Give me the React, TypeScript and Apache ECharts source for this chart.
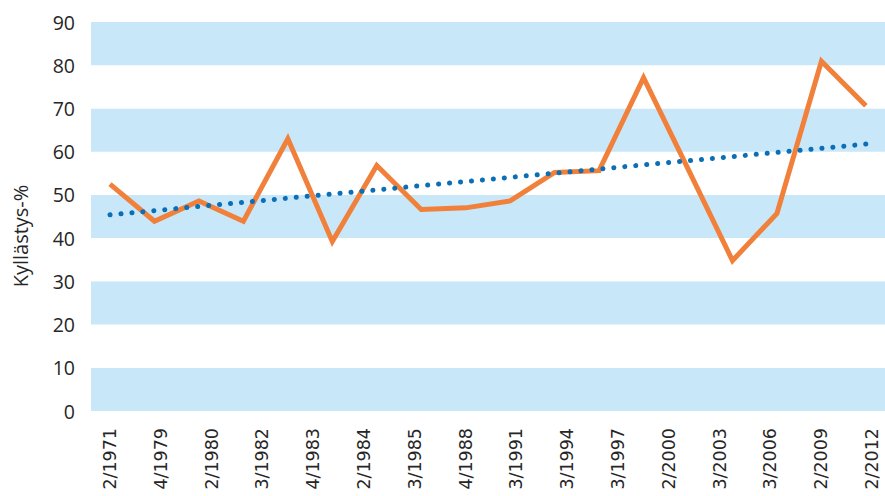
import React, { useEffect, useRef } from "react";
import * as echarts from "echarts";

const xLabels = [
  "2/1971", "4/1979", "2/1980", "3/1982", "4/1983", "2/1984", "3/1985", "4/1988",
  "3/1991", "3/1994", "3/1997", "2/2000", "3/2003", "3/2006", "2/2009", "2/2012",
];
const saturation = [
  52.5, 43.9, 48.6, 43.9, 63.0, 39.2, 56.8, 46.6, 47.0,
  48.6, 55.2, 55.6, 77.1, 56.0, 34.8, 45.7, 80.9, 70.6,
];
const trendEnds = [45.4, 61.8];
const yTicks = { min: 0, max: 90, step: 10 };
const yTitle = "Kyllästys-%";

export default function App() {
  const ref = useRef<HTMLDivElement>(null);
  useEffect(() => {
    if (!ref.current) return;
    const chart = echarts.init(ref.current, undefined, { renderer: "svg" });
    const lineData = saturation.map((v, i) => [i, v]);
    const trendData = [
      [0, trendEnds[0]],
      [saturation.length - 1 + 0.05, trendEnds[1]],
    ];
    chart.setOption({
      animation: false,
      backgroundColor: "#ffffff",
      grid: [
        { left: 91, right: 0, top: 22, bottom: 85 },
        { left: 110, right: 13, top: 22, bottom: 85 },
      ],
      xAxis: [
        { type: "value", gridIndex: 0, min: -0.427, max: 17.43, show: false },
        {
          type: "category",
          gridIndex: 1,
          data: xLabels,
          boundaryGap: false,
          axisLine: { show: false },
          axisTick: { show: false },
          splitLine: { show: false },
          axisLabel: {
            interval: 0,
            rotate: 90,
            margin: 17,
            fontFamily: "DejaVu Sans",
            fontSize: 17.5,
            color: "#262626",
          },
        },
      ],
      yAxis: [
        {
          type: "value",
          gridIndex: 0,
          min: yTicks.min,
          max: yTicks.max,
          interval: yTicks.step,
          axisLine: { show: false },
          axisTick: { show: false },
          splitLine: { show: false },
          splitArea: { show: true, areaStyle: { color: ["#C8E7F9", "#ffffff"] } },
          axisLabel: {
            margin: 16,
            fontFamily: "Open Sans",
            fontSize: 19.5,
            color: "#262626",
          },
        },
        { type: "value", gridIndex: 1, min: 0, max: 90, show: false },
      ],
      graphic: [
        {
          type: "text",
          x: 20,
          y: 236,
          rotation: Math.PI / 2,
          style: {
            text: yTitle,
            font: "20px 'Open Sans'",
            fontFamily: "Open Sans",
            fontSize: 20,
            fill: "#262626",
            align: "center",
            verticalAlign: "middle",
          },
        },
        {
          type: "line",
          shape: { x1: 256, y1: 168, x2: 262, y2: 168 },
          style: { stroke: "#F6B896", lineWidth: 1 },
        },
      ],
      series: [
        {
          type: "line",
          xAxisIndex: 0,
          yAxisIndex: 0,
          data: trendData,
          symbol: "none",
          z: 3,
          lineStyle: { color: "#0A6FB7", width: 5, type: [0.1, 10.9], cap: "round" },
        },
        {
          type: "line",
          xAxisIndex: 0,
          yAxisIndex: 0,
          data: lineData,
          symbol: "none",
          z: 2,
          lineStyle: { color: "#F0803A", width: 5, join: "miter" },
        },
      ],
    });
    return () => chart.dispose();
  }, []);
  return (
    <div
      ref={ref}
      style={{ position: "fixed", left: 0, top: 0, width: 885, height: 496 }}
    />
  );
}
